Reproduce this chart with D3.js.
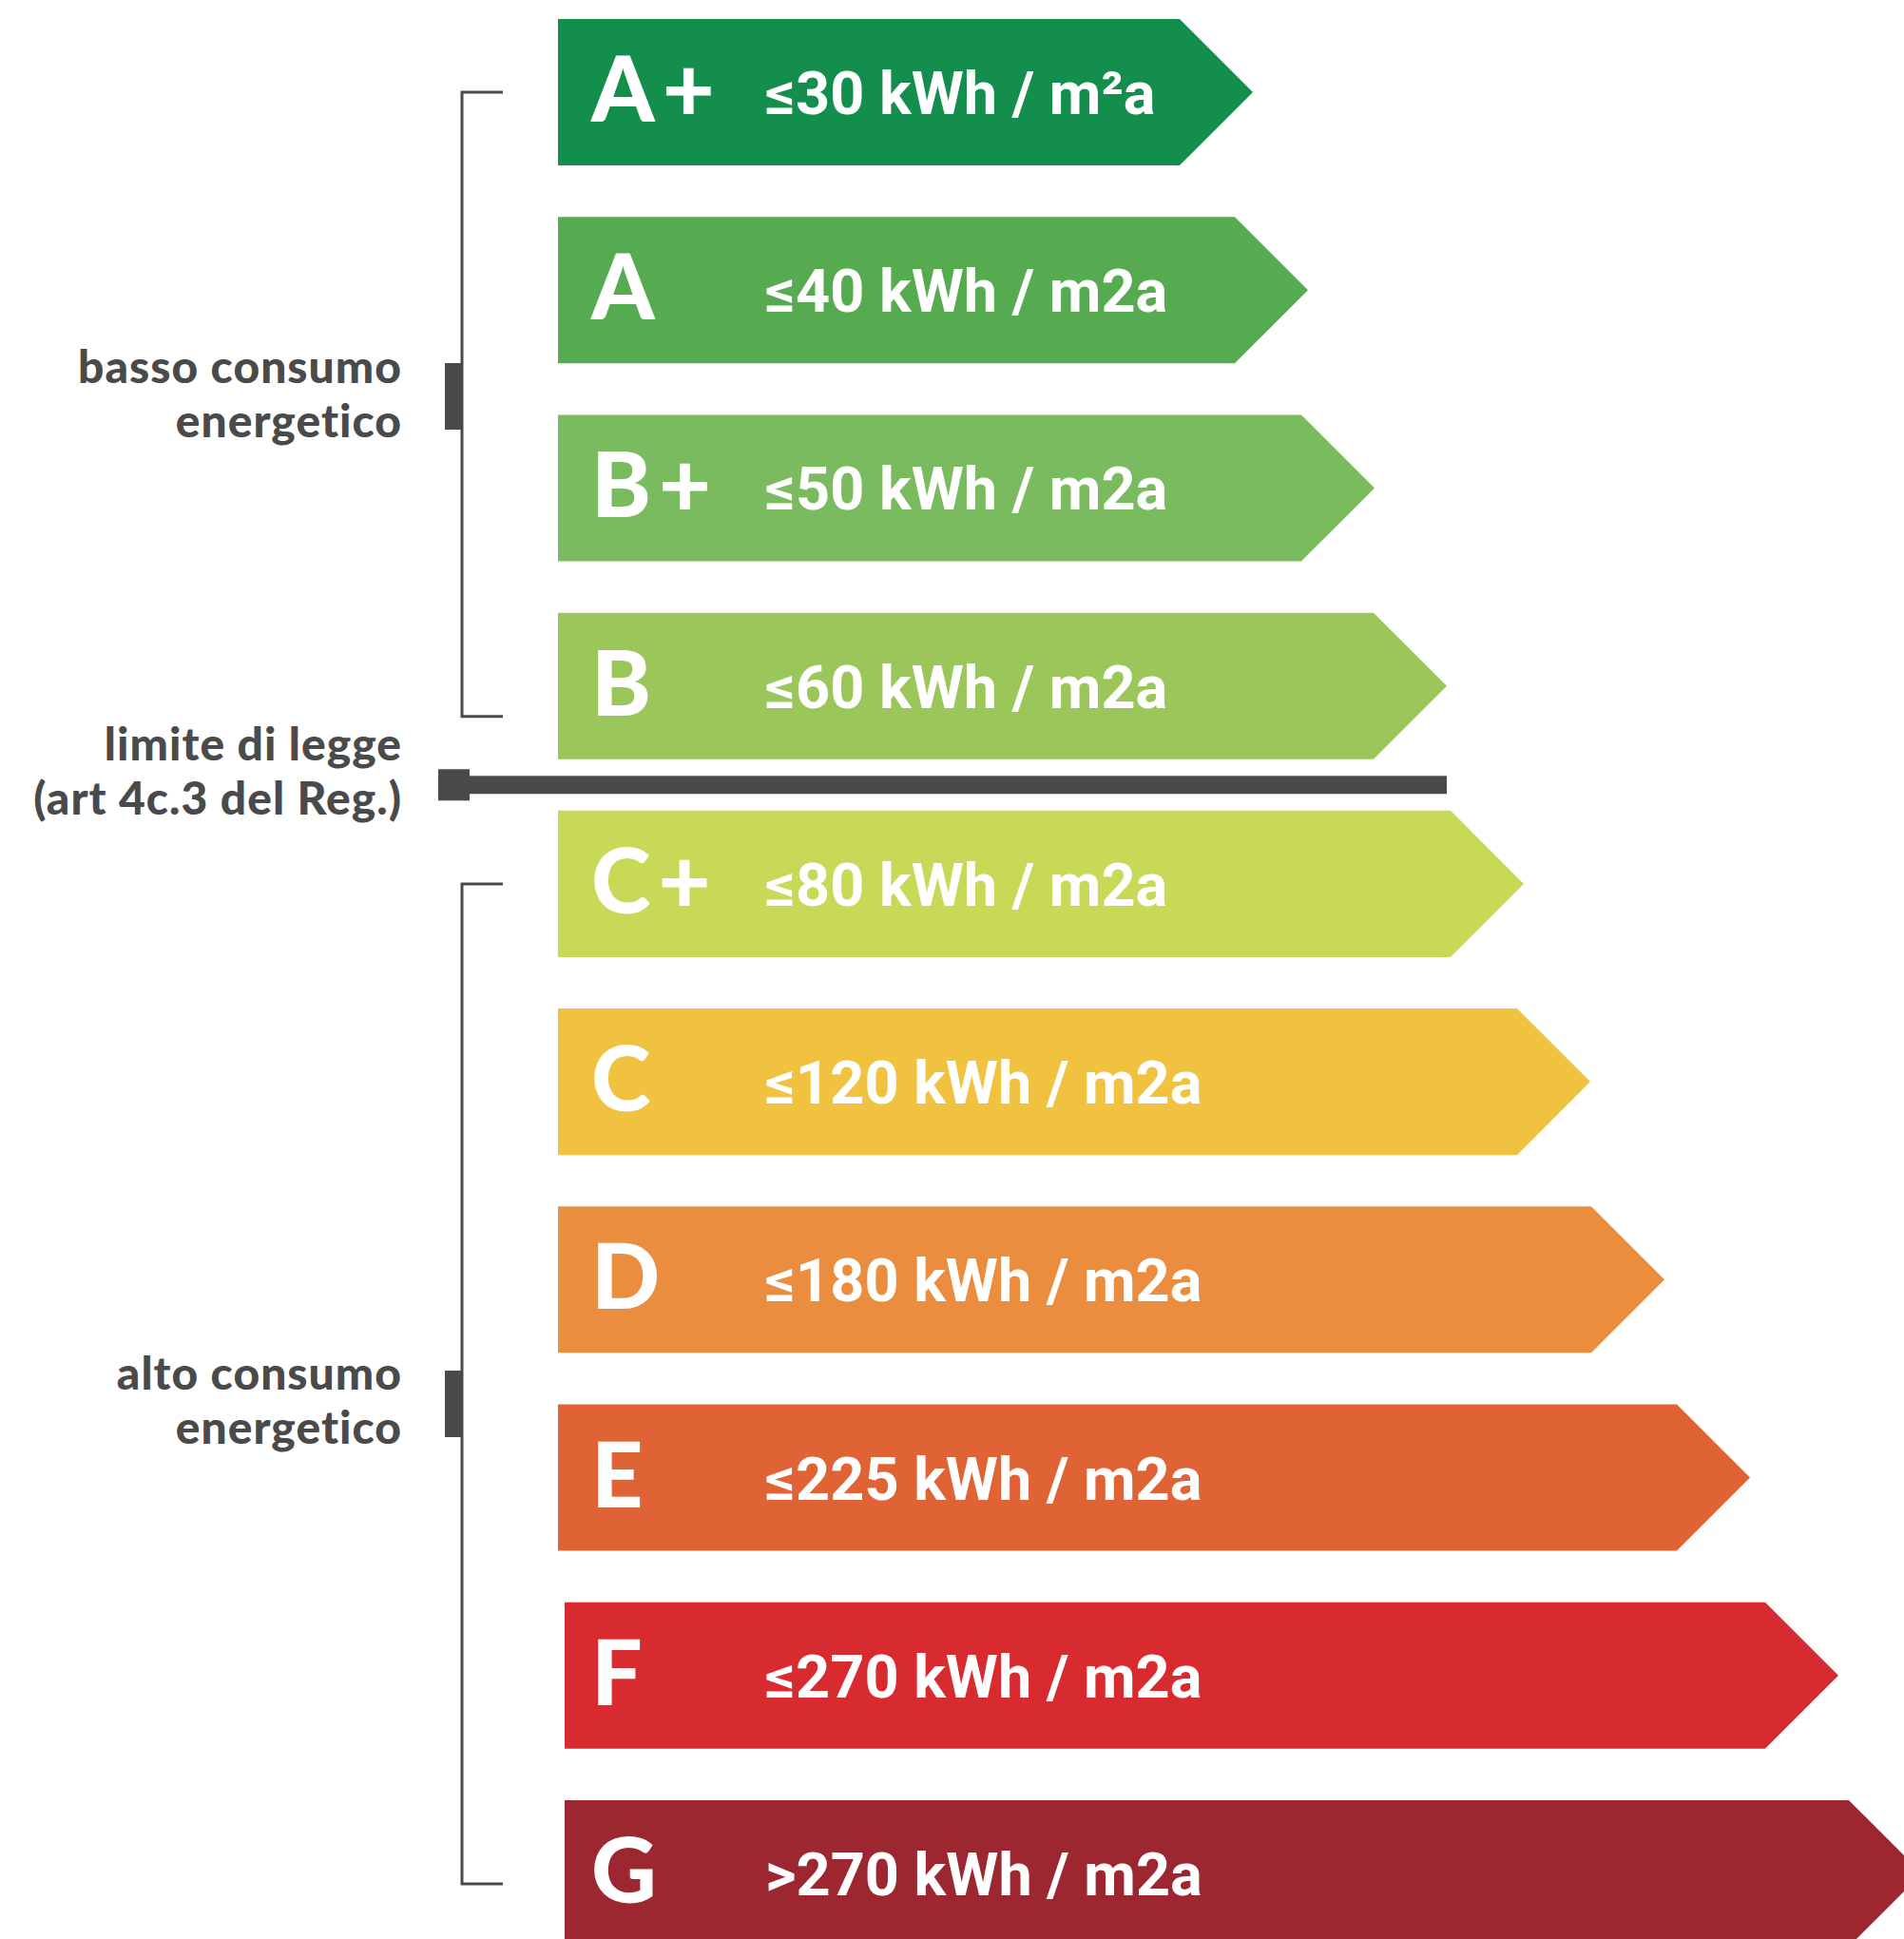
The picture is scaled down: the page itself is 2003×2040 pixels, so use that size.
<!DOCTYPE html>
<html>
<head>
<meta charset="utf-8">
<script src="https://cdn.jsdelivr.net/npm/d3@7"></script>
<style>
  body { margin: 0; background: #fff; }
  svg { display: block; }
  .grade { font-family: Lato, "Open Sans", sans-serif; font-weight: 900; fill: #fff; letter-spacing: 8px; }
  .range { font-family: Roboto, "Liberation Sans", sans-serif; font-weight: 700; fill: #fff; }
  .side { font-family: Lato, "Open Sans", sans-serif; font-weight: 900; fill: #4a4a4a; letter-spacing: 1px; }
</style>
</head>
<body>
<div id="chart"></div>
<script>
// energy classes, top to bottom
var grades = ["A+", "A", "B+", "B", "C+", "C", "D", "E", "F", "G"];
var limits = [
  "≤30 kWh / m²a",
  "≤40 kWh / m2a",
  "≤50 kWh / m2a",
  "≤60 kWh / m2a",
  "≤80 kWh / m2a",
  "≤120 kWh / m2a",
  "≤180 kWh / m2a",
  "≤225 kWh / m2a",
  "≤270 kWh / m2a",
  ">270 kWh / m2a",
];
// arrow length (tip)
var barLength = [731, 789, 859, 935, 1016, 1086, 1164, 1254, 1340, 1428];
var colors = [
  "#148e4d", "#56ab51", "#7bbb5f", "#9bc65a", "#c7d957",
  "#f0c23f", "#eb8d3e", "#e06335", "#d72b30", "#9c2730",
];

var lowLabel = ["basso consumo", "energetico"];
var highLabel = ["alto consumo", "energetico"];
var lawLabel = ["limite di legge", "(art 4c.3 del Reg.)"];

var width = 2003;
var height = 2040;
var ink = "#4a4a4a";

var svg = d3
  .select("#chart")
  .append("svg")
  .attr("width", width)
  .attr("height", height)
  .attr("viewBox", `0 0 ${width} ${height}`);

var y = d3
  .scaleBand()
  .domain(grades)
  .range([20, 2048])
  .paddingInner(0.26)
  .paddingOuter(0);

var x = d3
  .scaleLinear()
  .domain([0, d3.max(barLength)])
  .range([0, 1428]);

var bw = y.bandwidth();

// F and G sit a little to the right in the original
function left(i) {
  return i >= 8 ? 594 : 587;
}

var rows = svg
  .selectAll(".row")
  .data(grades)
  .join("g")
  .attr("class", "row")
  .attr("transform", (d) => `translate(0, ${y(d)})`);

rows
  .append("path")
  .attr("fill", (d, i) => colors[i])
  .attr("d", (d, i) => {
    var x0 = left(i);
    var tip = x0 + x(barLength[i]);
    var end = tip - bw / 2;
    var p = d3.path();
    p.moveTo(x0, 0);
    p.lineTo(end, 0);
    p.lineTo(tip, bw / 2);
    p.lineTo(end, bw);
    p.lineTo(x0, bw);
    p.closePath();
    return p.toString();
  });

rows
  .append("text")
  .attr("class", "grade")
  .attr("x", 622)
  .attr("y", bw / 2 + 31)
  .style("font-size", "95px")
  .text((d) => d);

rows
  .append("text")
  .attr("class", "range")
  .attr("x", 805)
  .attr("y", bw / 2 + 23)
  .style("font-size", "63px")
  .text((d, i) => limits[i]);

// brackets on the left
function bracket(top, bottom, tabY) {
  var g = svg.append("g");
  g.append("path")
    .attr("fill", "none")
    .attr("stroke", ink)
    .attr("stroke-width", 3)
    .attr("d", `M529,${top}H486V${bottom}H529`);
  g.append("rect")
    .attr("x", 468)
    .attr("y", tabY)
    .attr("width", 18)
    .attr("height", 70)
    .attr("fill", ink);
}

var mid = (d) => y(d) + bw / 2;

bracket(mid("A+"), mid("B") + 32, 382);
bracket(mid("C+"), mid("G") + 11, 1442);

function sideText(lines, base) {
  svg
    .append("g")
    .selectAll("text")
    .data(lines)
    .join("text")
    .attr("class", "side")
    .attr("x", 423)
    .attr("y", (d, i) => base + i * 57)
    .attr("text-anchor", "end")
    .style("font-size", "48px")
    .text((d) => d);
}

sideText(lowLabel, 403);
sideText(highLabel, 1462);

// legal limit line between B and C+
var lawY = (y("B") + bw + y("C+")) / 2;

svg
  .append("rect")
  .attr("x", 461)
  .attr("y", lawY - 16.5)
  .attr("width", 33)
  .attr("height", 33)
  .attr("fill", ink);

svg
  .append("rect")
  .attr("x", 490)
  .attr("y", lawY - 9.5)
  .attr("width", left(3) + x(barLength[3]) - 490)
  .attr("height", 19)
  .attr("fill", ink);

svg
  .append("g")
  .selectAll("text")
  .data(lawLabel)
  .join("text")
  .attr("class", "side")
  .attr("x", 423)
  .attr("y", (d, i) => lawY - 26 + i * 57)
  .attr("text-anchor", "end")
  .style("font-size", "48px")
  .text((d) => d);
</script>
</body>
</html>
